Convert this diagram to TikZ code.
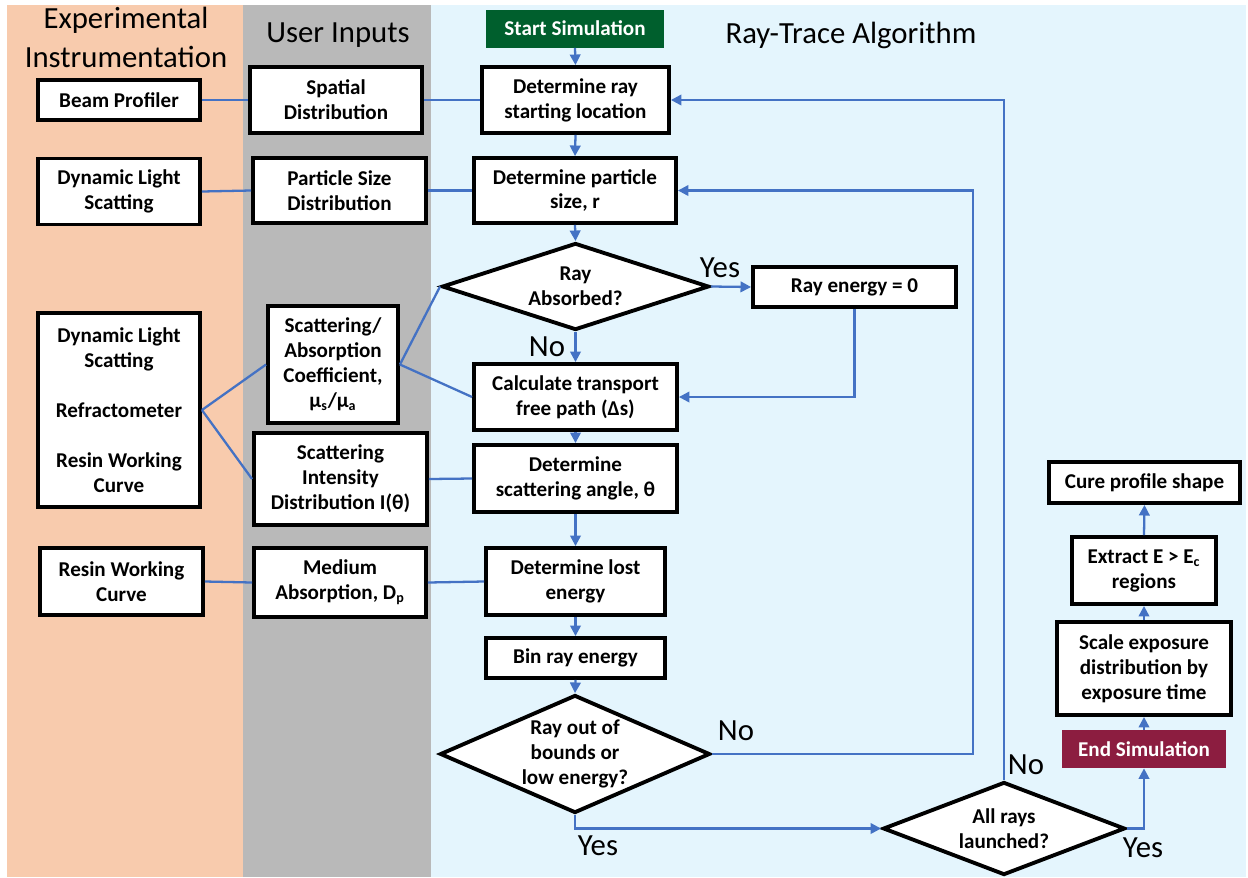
\documentclass[tikz,border=0pt]{standalone}
\usepackage{fontspec}
\setmainfont{Carlito}
\usetikzlibrary{shapes.geometric,arrows.meta}
\definecolor{bgorange}{HTML}{F8CBAD}
\definecolor{bggray}{HTML}{B9B9B9}
\definecolor{bgblue}{HTML}{E4F5FD}
\definecolor{startgreen}{HTML}{005F2D}
\definecolor{endred}{HTML}{8C1D40}
\definecolor{lblue}{HTML}{4472C4}
\begin{document}
\begin{tikzpicture}[x=0.02cm,y=-0.02cm,
  wh/.style 2 args={minimum width=#1*0.02cm, minimum height=#2*0.02cm},
  box/.style={draw=black, line width=2.2pt, fill=white, align=center, inner sep=0pt,
    font=\bfseries\fontsize{12}{14.2}\selectfont},
  term/.style={align=center, inner sep=0pt, text=white,
    font=\bfseries\fontsize{12}{14.2}\selectfont},
  dia/.style={diamond, draw=black, line width=2.2pt, fill=white, inner sep=0pt},
  dtext/.style={align=center, inner sep=0pt, font=\bfseries\fontsize{12}{14.2}\selectfont},
  link/.style={draw=lblue, line width=1.3pt},
  arr/.style={link, -{Triangle[length=6pt,width=6pt]}},
  head/.style={font=\fontsize{17.5}{22}\selectfont, anchor=base, inner sep=0pt},
  lab/.style={font=\fontsize{17.5}{21}\selectfont, inner sep=0pt}
]
\useasboundingbox (0,0) rectangle (1248,877);
\fill[white] (0,0) rectangle (1248,877);
% panels
\fill[bgorange] (7,5) rectangle (243,877);
\fill[bggray] (243,5) rectangle (431,877);
\fill[bgblue] (431,5) rectangle (1246,877);
% headers
\node[head] (h1) at (126,28) {Experimental};
\node[head] (h2) at (126,67) {Instrumentation};
\node[head] (h3) at (338,42) {User Inputs};
\node[head] (h4) at (851,43) {Ray-Trace Algorithm};
% left column
\node[box, wh={162}{40}] (bp) at (119,100) {Beam Profiler};
\node[box, wh={162}{66}] (dl) at (119,191.5) {Dynamic Light\\Scatting};
\node[box, wh={162}{194}] (big) at (119,410) {Dynamic Light\\Scatting\\ \\Refractometer\\ \\Resin Working\\Curve};
\node[box, wh={163}{67}] (rw) at (121.5,581.5) {Resin Working\\Curve};
% user inputs
\node[box, wh={172}{66}] (sd) at (336,100) {Spatial\\Distribution};
\node[box, wh={173}{65}] (psd) at (339.5,190.5) {Particle Size\\Distribution};
\node[box, wh={130}{117}] (sa) at (333,364.5) {Scattering/\\Absorption\\Coefficient,\\μ\textsubscript{s}/μ\textsubscript{a}};
\node[box, wh={173}{92}] (si) at (340.5,479) {Scattering\\Intensity\\Distribution I(θ)};
\node[box, wh={172}{69}] (md) at (340,582.5) {Medium\\Absorption, D\textsubscript{p}};
% algorithm
\node[term, fill=startgreen, wh={178}{38}] (ss) at (575,28.5) {Start Simulation};
\node[box, wh={187}{66}] (rl) at (575.5,100) {Determine ray\\starting location};
\node[box, wh={202}{65}] (ps) at (575,190.5) {Determine particle\\size, r};
\node[dia, wh={267}{87}] (ra) at (575.5,286.5) {};
\node[dtext] (rat) at (ra) {Ray\\Absorbed?};
\node[box, wh={203}{40}] (re) at (854.5,287) {Ray energy = 0};
\node[box, wh={203}{66}] (ct) at (575.5,397) {Calculate transport\\free path (Δs)};
\node[box, wh={203}{67}] (sg) at (575.5,478.5) {Determine\\scattering angle, θ};
\node[box, wh={179}{67}] (le) at (575.5,581.5) {Determine lost\\energy};
\node[box, wh={179}{40}] (br) at (575.5,658) {Bin ray energy};
\node[dia, wh={270}{118}] (ob) at (575,754) {};
\node[dtext] (obt) at (ob) {Ray out of\\bounds or\\low energy?};
\node[dia, wh={242}{93}] (ar) at (1004,828.5) {};
\node[dtext] (art) at (ar) {All rays\\launched?};
\node[term, fill=endred, wh={164}{38}] (es) at (1144,749) {End Simulation};
\node[box, wh={174}{93}] (sc) at (1144,668.5) {Scale exposure\\distribution by\\exposure time};
\node[box, wh={144}{67}] (ex) at (1144,570.5) {Extract E > E\textsubscript{c}\\regions};
\node[box, wh={191}{41}] (cp) at (1144.5,482.5) {Cure profile shape};
% plain links
\draw[link] (bp.east) -- (sd.west);
\draw[link] (sd.east) -- (rl.west);
\draw[link] (dl.east) -- (psd.west);
\draw[link] (psd.east) -- (ps.west);
\draw[link] (big.east) -- (sa.west);
\draw[link] (big.east) -- (si.west);
\draw[link] (sa.east) -- (ra.west);
\draw[link] (sa.east) -- (ct.west);
\draw[link] (si.east) -- (sg.west);
\draw[link] (rw.east) -- (md.west);
\draw[link] (md.east) -- (le.west);
% arrows
\draw[arr] (ss.south) -- (rl.north);
\draw[arr] (rl.south) -- (ps.north);
\draw[arr] (ps.south) -- (ra.north);
\draw[arr] (ra.south) -- (ct.north);
\draw[arr] (ct.south) -- (sg.north);
\draw[arr] (sg.south) -- (le.north);
\draw[arr] (le.south) -- (br.north);
\draw[arr] (br.south) -- (ob.north);
\draw[arr] (ra.east) -- (re.west);
\draw[arr] (re.south) |- (ct.east);
\coordinate (c1) at (973,190.5);
\draw[arr] (ob.east) -| (c1) -- (ps.east);
\draw[arr] (ar.north) |- (rl.east);
\draw[arr] (ob.south) |- (ar.west);
\draw[arr] (ar.east) -| (es.south);
\draw[arr] (es.north) -- (sc.south);
\draw[arr] (sc.north) -- (ex.south);
\draw[arr] (ex.north) -- (cp.south);
% labels
\node[lab] (l1) at (720,268) {Yes};
\node[lab] (l2) at (547,347) {No};
\node[lab] (l3) at (736,731) {No};
\node[lab] (l4) at (598,846) {Yes};
\node[lab] (l5) at (1026,765) {No};
\node[lab] (l6) at (1143,848) {Yes};
\end{tikzpicture}
\end{document}
